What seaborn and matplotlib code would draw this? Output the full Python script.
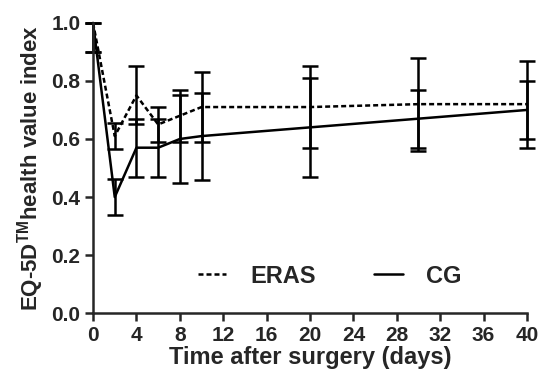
import numpy as np
import pandas as pd
import matplotlib
matplotlib.use("Agg")
import matplotlib.pyplot as plt
import seaborn as sns

# days after surgery
days = [0, 2, 4, 6, 8, 10, 20, 30, 40]

# EQ-5D index, mean and error bar half-widths (lower / upper)
eras_mean = [1.00, 0.61, 0.75, 0.65, 0.68, 0.71, 0.71, 0.72, 0.72]
eras_lo = [0.10, 0.045, 0.10, 0.06, 0.09, 0.12, 0.14, 0.16, 0.15]
eras_hi = [0.00, 0.045, 0.10, 0.06, 0.09, 0.12, 0.14, 0.16, 0.15]
cg_mean = [1.00, 0.40, 0.57, 0.57, 0.60, 0.61, 0.64, 0.67, 0.70]
cg_lo = [0.10, 0.062, 0.10, 0.10, 0.15, 0.15, 0.17, 0.10, 0.10]
cg_hi = [0.00, 0.062, 0.10, 0.10, 0.15, 0.15, 0.17, 0.10, 0.10]

groups = ["ERAS", "CG"]

sns.set_style("ticks")
plt.rcParams["font.family"] = ["Liberation Sans", "DejaVu Sans"]
plt.rcParams["font.weight"] = "bold"
plt.rcParams["mathtext.fontset"] = "custom"
plt.rcParams["mathtext.rm"] = "Liberation Sans:bold"
plt.rcParams["mathtext.it"] = "Liberation Sans:bold"
plt.rcParams["mathtext.bf"] = "Liberation Sans:bold"

df = pd.DataFrame({
    "day": days * 2,
    "value": eras_mean + cg_mean,
    "group": ["ERAS"] * len(days) + ["CG"] * len(days),
})

fig = plt.figure(figsize=(5.41, 3.81), dpi=100)
ax = fig.add_axes([0.172, 0.178, 0.802, 0.762])

lw = 1.8
sns.lineplot(data=df, x="day", y="value", style="group", style_order=groups,
             dashes={"ERAS": (2, 1.2), "CG": ""}, color="black", linewidth=lw,
             ax=ax, clip_on=False)

# error bars for each group
for m, lo, hi in [(eras_mean, eras_lo, eras_hi), (cg_mean, cg_lo, cg_hi)]:
    ax.errorbar(days, m, yerr=[lo, hi], fmt="none", ecolor="black", elinewidth=lw,
                capsize=6, capthick=lw, clip_on=False)

ax.set_xlim(0, 40)
ax.set_ylim(0, 1.0)
ax.set_xticks(np.arange(0, 41, 4))
ax.set_yticks(np.arange(0, 1.01, 0.2))
ax.set_yticklabels([f"{v:.1f}" for v in np.arange(0, 1.01, 0.2)])
ax.tick_params(axis="both", width=lw, length=6, labelsize=15, direction="out", pad=3)
for s in ["left", "bottom"]:
    ax.spines[s].set_linewidth(lw)
sns.despine(ax=ax)

ax.set_xlabel("Time after surgery (days)", fontsize=17, fontweight="bold", labelpad=1)
ax.set_ylabel(r"EQ-5D$^{\rm TM}$health value index", fontsize=16,
              fontweight="bold", labelpad=4)

leg = ax.legend(loc="center", bbox_to_anchor=(0.546, 0.128), ncol=2, frameon=False,
                fontsize=17, handlelength=1.2, columnspacing=2.5, handletextpad=1.0)
for t in leg.get_texts():
    t.set_fontweight("bold")

fig.savefig("out.png", dpi=100)
